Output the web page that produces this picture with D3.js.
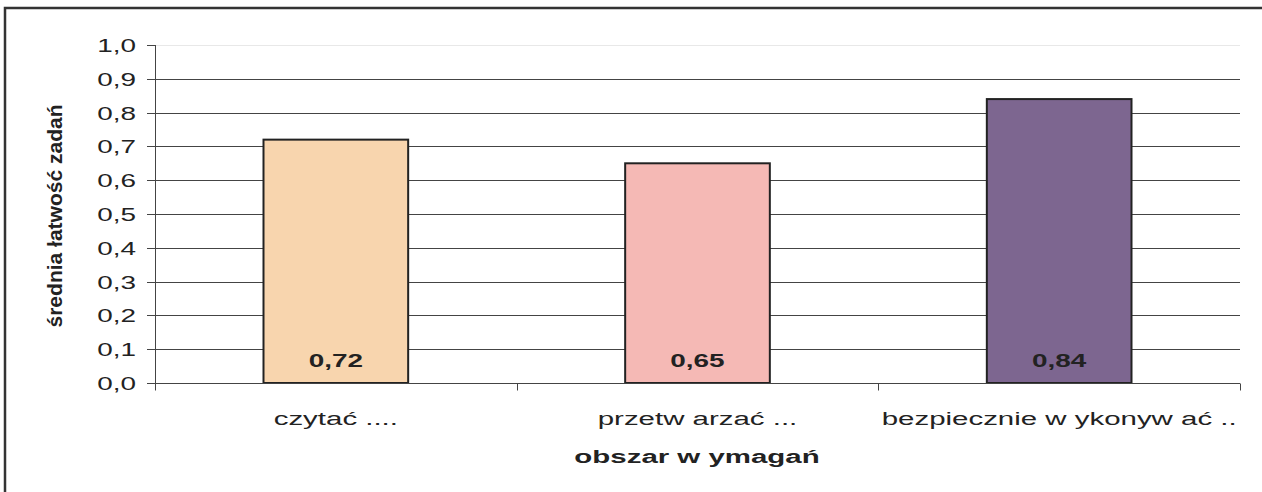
<!DOCTYPE html>
<html>
<head>
<meta charset="utf-8">
<script src="https://cdn.jsdelivr.net/npm/d3@7"></script>
<style>
  body { margin: 0; background: #fff; }
  text { font-family: "Liberation Sans", Arial, sans-serif; fill: #222; }
</style>
</head>
<body>
<div id="chart"></div>
<script>
(function() {
  var categories = ['czytać ....', 'przetw arzać ...', 'bezpiecznie w ykonyw ać ..'];
  var values = [0.72, 0.65, 0.84];
  var valueLabels = ['0,72', '0,65', '0,84'];
  var barColours = ['#f8d5ae', '#f5b9b5', '#7d6690'];
  var yTicks = [0, 0.1, 0.2, 0.3, 0.4, 0.5, 0.6, 0.7, 0.8, 0.9, 1.0];

  var width = 1262, height = 492;
  var plot = { left: 155, right: 1240, top: 45, bottom: 383 };
  var stretch = 1.55; // text in the original is drawn wide

  var svg = d3.select('#chart')
            .append('svg')
            .attr('width', width)
            .attr('height', height);

  function wideText(g, px, py) {
    return g.append('text')
      .attr('transform', 'translate(' + px + ',' + py + ') scale(' + stretch + ',1)');
  }

  // outer chart frame (cut off at right and bottom)
  svg.append('rect')
    .attr('x', 5)
    .attr('y', 8)
    .attr('width', 1300)
    .attr('height', 600)
    .attr('fill', 'none')
    .attr('stroke', '#333')
    .attr('stroke-width', 2.5);

  var x = d3.scaleBand()
    .domain(categories)
    .range([plot.left, plot.right]);

  var y = d3.scaleLinear()
    .domain([0, 1])
    .range([plot.bottom, plot.top]);

  // gridlines
  svg.append('g')
    .selectAll('line')
    .data(yTicks.slice(1))
    .enter()
    .append('line')
    .attr('x1', plot.left)
    .attr('x2', plot.right)
    .attr('y1', function(d) { return Math.round(y(d)) + 0.5; })
    .attr('y2', function(d) { return Math.round(y(d)) + 0.5; })
    .attr('stroke', function(d) { return d === 1 ? '#e8e8e8' : '#444'; })
    .attr('stroke-width', 1);

  // bars
  svg.append('g')
    .selectAll('rect')
    .data(values)
    .enter()
    .append('rect')
    .attr('x', function(d, i) { return x(categories[i]) + x.bandwidth() * 0.3; })
    .attr('y', function(d) { return y(d); })
    .attr('width', x.bandwidth() * 0.4)
    .attr('height', function(d) { return y(0) - y(d); })
    .attr('fill', function(d, i) { return barColours[i]; })
    .attr('stroke', '#222')
    .attr('stroke-width', 2);

  // value labels inside bars
  var vg = svg.append('g');
  valueLabels.forEach(function(d, i) {
    wideText(vg, x(categories[i]) + x.bandwidth() / 2, y(0) - 16)
      .attr('text-anchor', 'middle')
      .style('font-size', '18px')
      .style('font-weight', 'bold')
      .text(d);
  });

  // y axis
  var yg = svg.append('g');
  yg.append('line')
    .attr('x1', plot.left + 0.5)
    .attr('x2', plot.left + 0.5)
    .attr('y1', plot.top)
    .attr('y2', plot.bottom + 7)
    .attr('stroke', '#444');
  yTicks.forEach(function(d) {
    var ty = Math.round(y(d)) + 0.5;
    yg.append('line')
      .attr('x1', plot.left - 8)
      .attr('x2', plot.left)
      .attr('y1', ty)
      .attr('y2', ty)
      .attr('stroke', '#444');
    wideText(yg, 136, ty + 6.5)
      .attr('text-anchor', 'end')
      .style('font-size', '18px')
      .text(d3.format('.1f')(d).replace('.', ','));
  });

  // x axis
  var xg = svg.append('g')
    .attr('transform', 'translate(0,' + (plot.bottom + 0.5) + ')');
  xg.append('line')
    .attr('x1', plot.left)
    .attr('x2', plot.right)
    .attr('stroke', '#444');
  xg.selectAll('line.tick')
    .data(categories.concat(['end']))
    .enter()
    .append('line')
    .attr('class', 'tick')
    .attr('x1', function(d, i) { return Math.round(plot.left + x.step() * i) + 0.5; })
    .attr('x2', function(d, i) { return Math.round(plot.left + x.step() * i) + 0.5; })
    .attr('y1', 0)
    .attr('y2', 7)
    .attr('stroke', '#444');
  categories.forEach(function(d) {
    wideText(xg, x(d) + x.bandwidth() / 2, 41)
      .attr('text-anchor', 'middle')
      .style('font-size', '19px')
      .text(d);
  });

  // axis titles
  wideText(svg, 697, 463)
    .attr('text-anchor', 'middle')
    .style('font-size', '19px')
    .style('font-weight', 'bold')
    .text('obszar w ymagań');

  svg.append('text')
    .attr('transform', 'translate(62,216) rotate(-90)')
    .attr('text-anchor', 'middle')
    .attr('textLength', 223)
    .attr('lengthAdjust', 'spacingAndGlyphs')
    .style('font-size', '20px')
    .style('font-weight', 'bold')
    .text('średnia łatwość zadań');
}());
</script>
</body>
</html>
